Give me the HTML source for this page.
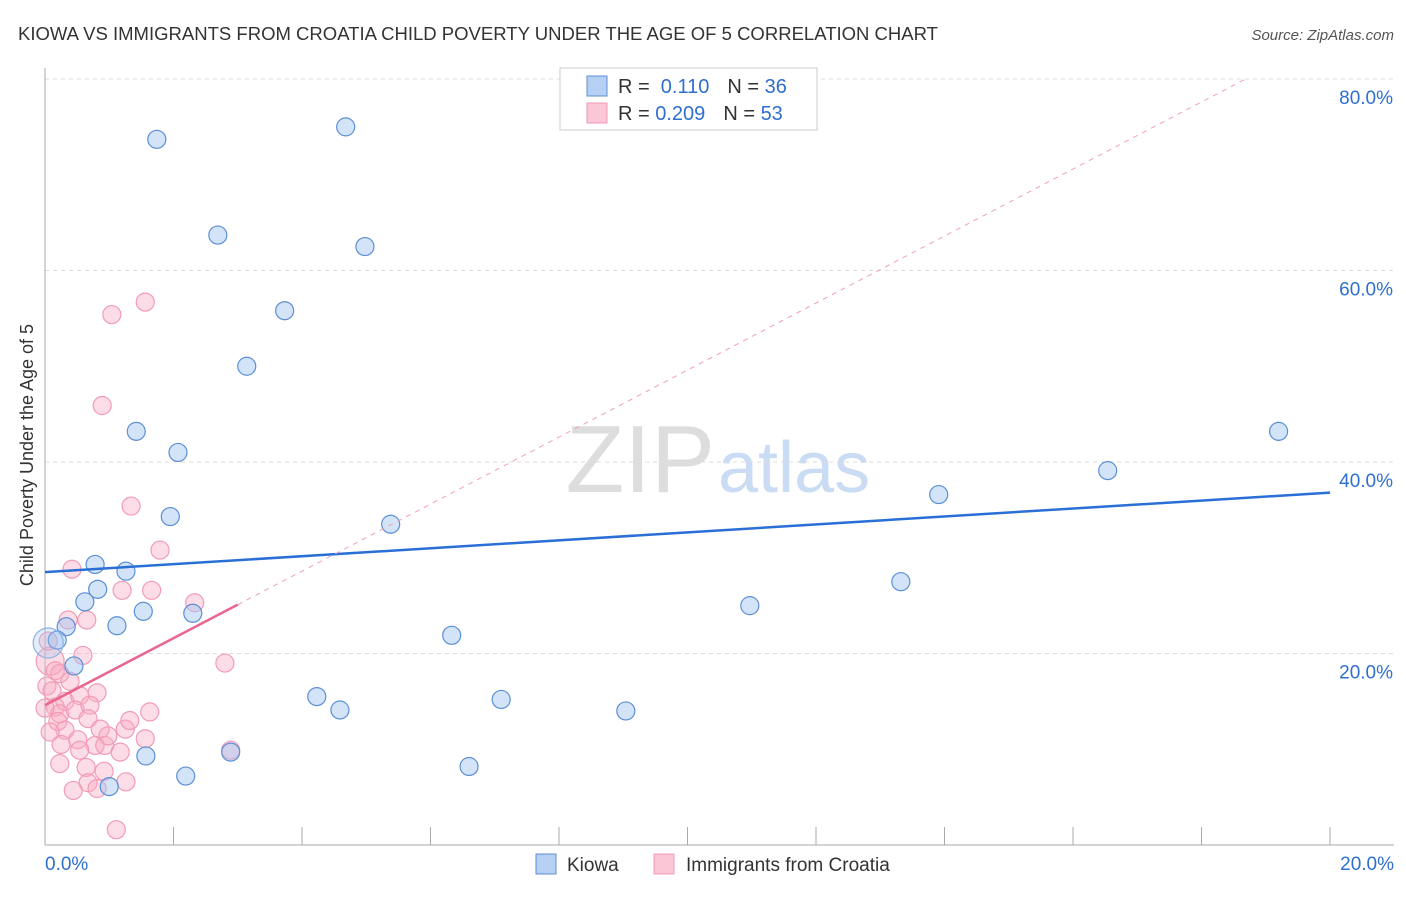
<!DOCTYPE html>
<html><head><meta charset="utf-8"><style>
body{margin:0;background:#fff;font-family:"Liberation Sans",sans-serif}
svg text{font-family:"Liberation Sans",sans-serif}
</style></head><body>
<svg id="c" width="1406" height="892">
<text x="18" y="40" font-size="18" fill="#333" textLength="920" lengthAdjust="spacingAndGlyphs">KIOWA VS IMMIGRANTS FROM CROATIA CHILD POVERTY UNDER THE AGE OF 5 CORRELATION CHART</text>
<text x="1394" y="40" font-size="15" fill="#555" font-style="italic" text-anchor="end">Source: ZipAtlas.com</text>
<text x="715" y="492" font-size="96" fill="#ddd" text-anchor="end" font-family="Liberation Serif">ZIP</text>
<text x="718" y="492" font-size="72" fill="#c9dcf3">atlas</text>
<text transform="translate(33,455) rotate(-90)" font-size="18" fill="#333" text-anchor="middle">Child Poverty Under the Age of 5</text>
<g id="grid"></g><g id="pts"></g><g id="lines"></g>
<g>
<rect x="560" y="68" width="257" height="62" fill="#fff" stroke="#ccc"/>
<rect x="587" y="76" width="20" height="20" fill="#b5d0f3" stroke="#5b8fd6"/>
<rect x="587" y="103" width="20" height="20" fill="#fbc6d6" stroke="#f29bb5"/>
<text x="618" y="93" font-size="20" fill="#333">R = <tspan fill="#2f6fd0">&#160;0.110</tspan><tspan dx="18">N = </tspan><tspan fill="#2f6fd0">36</tspan></text>
<text x="618" y="120" font-size="20" fill="#333">R = <tspan fill="#2f6fd0">0.209</tspan><tspan dx="18">N = </tspan><tspan fill="#2f6fd0">53</tspan></text>
</g>
<g>
<rect x="536" y="854" width="20" height="20" fill="#b5d0f3" stroke="#5b8fd6"/>
<text x="567" y="871" font-size="19" fill="#333">Kiowa</text>
<rect x="654" y="854" width="20" height="20" fill="#fbc6d6" stroke="#f29bb5"/>
<text x="686" y="871" font-size="19" fill="#333">Immigrants from Croatia</text>
</g>
</svg>
<script>
const xTicks=[0,2,4,6,8,10,12,14,16,18,20];
const yTicks=[20,40,60,80];
const kiowaX=[1.74,4.68,2.69,4.98,3.73,3.14,1.42,2.07,1.95,5.38,0.78,1.26,0.82,0.62,1.53,1.12,0.33,0.19,0.05,0.45,2.30,6.33,4.23,4.59,7.10,1.57,2.19,2.89,6.60,1.00,9.04,10.97,13.32,13.91,16.54,19.20];
const kiowaY=[73.7,75.0,63.7,62.5,55.8,50.0,43.2,41.0,34.3,33.5,29.3,28.6,26.7,25.4,24.4,22.9,22.8,21.4,21.1,18.7,24.2,21.9,15.5,14.1,15.2,9.3,7.2,9.7,8.2,6.1,14.0,25.0,27.5,36.6,39.1,43.2];
const croX=[1.56,1.04,0.89,1.34,1.79,0.42,1.66,1.20,2.33,0.36,0.65,2.80,0.59,0.08,0.16,0.23,0.03,0.11,0.39,0.31,0.54,0.81,0.16,0.23,0.47,0.70,0.20,0.67,0.86,0.31,0.08,0.51,0.78,0.93,0.54,1.25,0.98,1.63,1.56,1.17,2.89,0.64,0.92,0.67,1.26,0.44,0.81,1.11,0.23,0.00,1.32,0.25,0.05];
const croY=[56.7,55.4,45.9,35.4,30.8,28.8,26.6,26.6,25.3,23.5,23.5,19.0,19.8,19.2,18.2,17.9,16.6,16.1,17.1,15.0,15.6,15.9,14.4,13.7,14.1,14.6,12.9,13.2,12.1,12.0,11.8,11.0,10.4,10.4,9.9,12.1,11.4,13.9,11.1,9.7,9.9,8.1,7.7,6.5,6.6,5.7,5.9,1.6,8.5,14.3,13.0,10.5,21.3];
const kiowaBig=[0,0,0,0,0,0,0,0,0,0,0,0,0,0,0,0,0,0,1];
const trendIntercept=[28.5,14.6];
const trendSlope=[0.415,3.5];
const X=v=>45+v/20*1285, Y=v=>845-v/20*191.5;
const NS='http://www.w3.org/2000/svg';
function mk(t,a,p){const e=document.createElementNS(NS,t);for(const k in a)e.setAttribute(k,a[k]);p.appendChild(e);return e;}
const g=document.getElementById('grid');
yTicks.forEach(v=>{
 const l=mk('line',{x1:45,x2:1394,y1:Y(v),y2:Y(v),stroke:'#ddd','stroke-dasharray':'4,4'},g);
 
 
 const t=mk('text',{x:1393,y:Y(v)+25,'font-size':19,fill:'#2f6fd0','text-anchor':'end'},g);t.textContent=v.toFixed(1)+'%';
 
 
});
const ax=mk('line',{x1:45,x2:45,y1:68,y2:845,stroke:'#aaa'},g);


const bx=mk('line',{x1:45,x2:1394,y1:845,y2:845,stroke:'#aaa'},g);


xTicks.forEach(v=>{const l=mk('line',{x1:X(v),x2:X(v),y1:827,y2:845,stroke:'#aaa'},g);
 
 });
[[0,'0.0%','start',45],[20,'20.0%','end',1394]].forEach(a=>{const t=mk('text',{x:a[3],y:870,'font-size':19,fill:'#2f6fd0','text-anchor':a[2]},g);t.textContent=a[1];
 
 });
const p=document.getElementById('pts');
croX.forEach((v,i)=>{const c=mk('circle',{cx:X(v),cy:Y(croY[i]),r:(i==13?14:9),fill:'rgba(248,170,195,0.4)',stroke:'#f29bb5','stroke-width':1.2},p);
 
 });
kiowaX.forEach((v,i)=>{const big=kiowaBig[i];const c=mk('circle',{cx:X(v),cy:Y(kiowaY[i]),r:(big?15:9),fill:big?'rgba(160,195,240,0.3)':'rgba(160,195,240,0.45)',stroke:big?'#8fb3e6':'#5b8fd6','stroke-width':1.2},p);
 
 });
const L=document.getElementById('lines');
const b=mk('line',{x1:X(0),y1:Y(trendIntercept[0]),x2:X(20),y2:Y(trendIntercept[0]+20*trendSlope[0]),stroke:'#2a6fd6','stroke-width':2.5},L);


const xEnd=(80-trendIntercept[1])/trendSlope[1];
const d=mk('line',{x1:X(3),y1:Y(trendIntercept[1]+3*trendSlope[1]),x2:X(xEnd),y2:Y(80),stroke:'#f0a0b8','stroke-width':1,'stroke-dasharray':'5,5'},L);


const s=mk('line',{x1:X(0),y1:Y(trendIntercept[1]),x2:X(3),y2:Y(trendIntercept[1]+3*trendSlope[1]),stroke:'#e9668f','stroke-width':2.5},L);


</script>
</body></html>
